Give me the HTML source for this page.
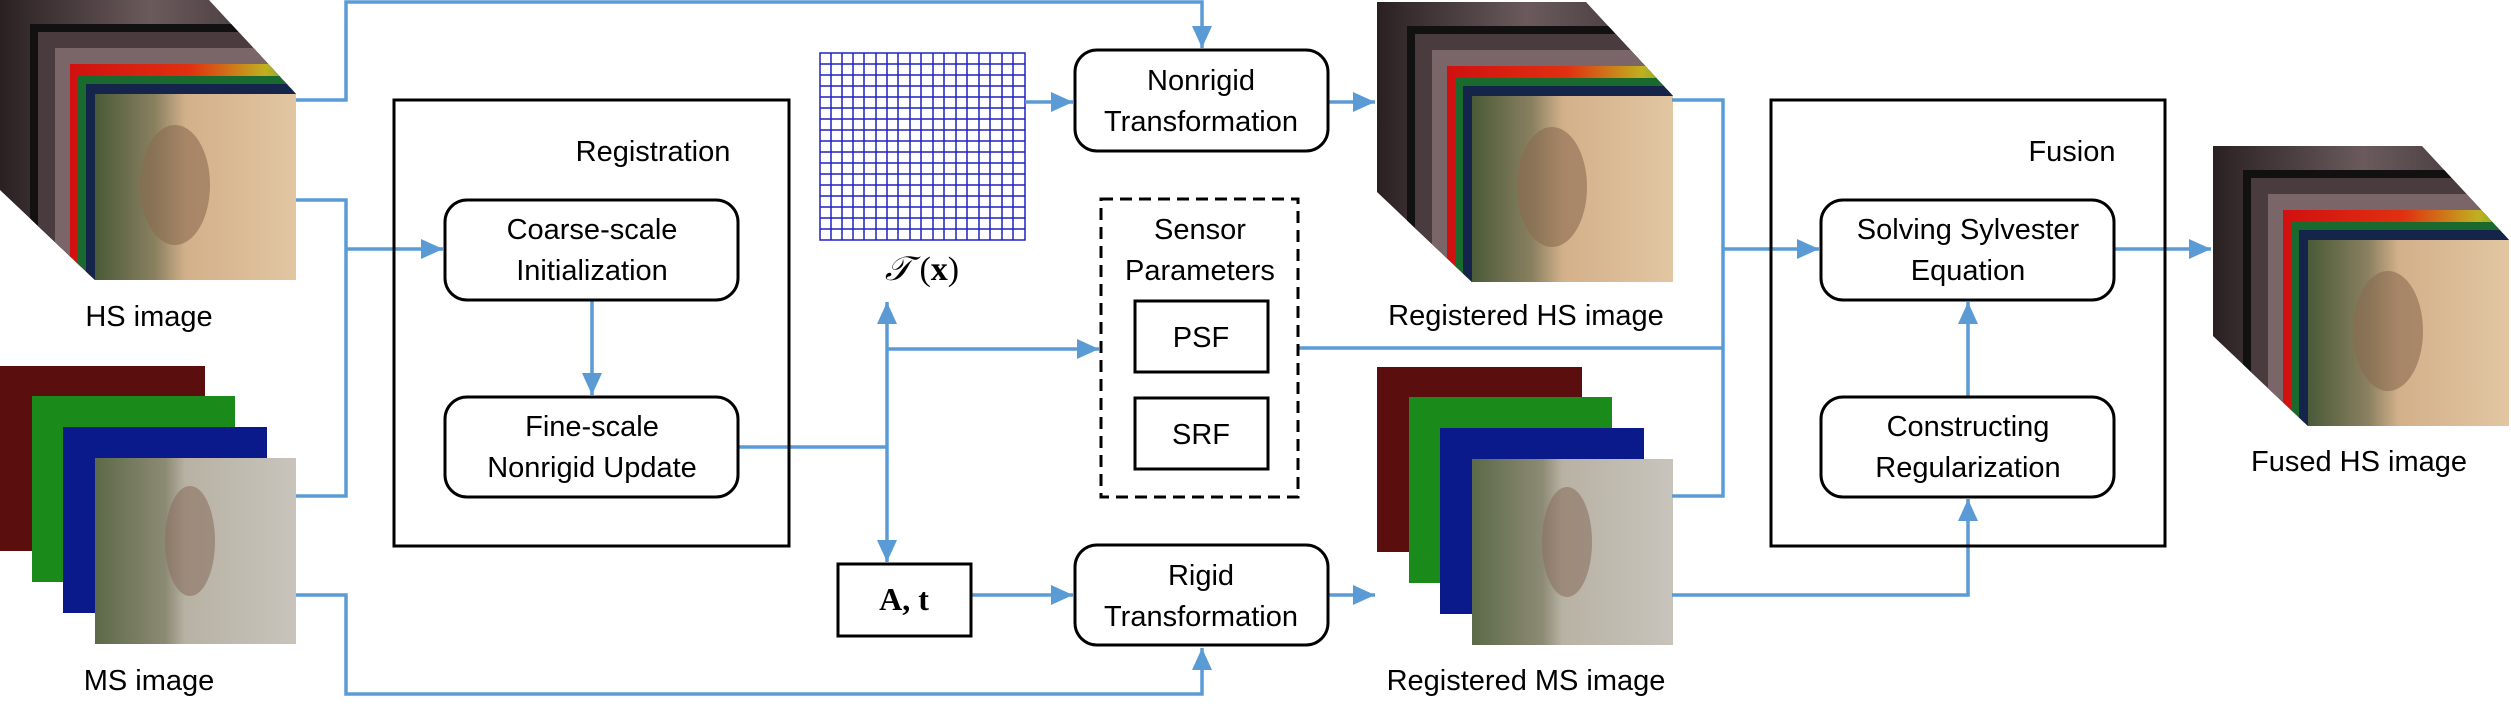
<!DOCTYPE html>
<html><head><meta charset="utf-8"><style>
html,body{margin:0;padding:0;background:#fff;}
svg{display:block;}
text{font-family:"Liberation Sans",sans-serif;font-size:29px;fill:#000;}
</style></head><body>
<svg width="2511" height="714" viewBox="0 0 2511 714" xmlns="http://www.w3.org/2000/svg">
<defs>
<marker id="ah" markerUnits="userSpaceOnUse" markerWidth="24" markerHeight="22" refX="22" refY="10" orient="auto">
<path d="M0,0 L22,10 L0,20 z" fill="#5b9bd5"/></marker>
<linearGradient id="rain" x1="0" y1="0" x2="1" y2="0">
<stop offset="0" stop-color="#d01010"/><stop offset="0.4" stop-color="#e03010"/><stop offset="0.65" stop-color="#c0b020"/><stop offset="0.85" stop-color="#20a040"/><stop offset="1" stop-color="#1040a0"/></linearGradient>
<linearGradient id="face" x1="0" y1="0" x2="1" y2="0">
<stop offset="0" stop-color="#4a5a38"/><stop offset="0.3" stop-color="#8a8060"/><stop offset="0.45" stop-color="#d2b08a"/><stop offset="1" stop-color="#e2c6a2"/></linearGradient>
<linearGradient id="msface" x1="0" y1="0" x2="1" y2="0">
<stop offset="0" stop-color="#5c6a48"/><stop offset="0.35" stop-color="#8c8a74"/><stop offset="0.45" stop-color="#b8b2a4"/><stop offset="1" stop-color="#c8c4bc"/></linearGradient>
<linearGradient id="dark" x1="0" y1="0" x2="1" y2="0">
<stop offset="0" stop-color="#2a2022"/><stop offset="0.5" stop-color="#6a5a5c"/><stop offset="1" stop-color="#3a3032"/></linearGradient>
<clipPath id="cc"><polygon points="0,0 209,0 296,94 296,280 95,280 0,190"/></clipPath>
<g id="cube">
<g clip-path="url(#cc)">
<rect x="0" y="0" width="300" height="290" fill="url(#dark)"/>
<rect x="30" y="24" width="300" height="290" fill="#111"/>
<rect x="38" y="32" width="300" height="290" fill="#4a3c3e"/>
<rect x="55" y="48" width="300" height="290" fill="#7a6668"/>
<rect x="70" y="64" width="300" height="290" fill="url(#rain)"/>
<rect x="78" y="76" width="300" height="290" fill="#1a6a30"/>
<rect x="86" y="84" width="300" height="290" fill="#14244a"/>
</g>
<rect x="95" y="94" width="201" height="186" fill="url(#face)"/>
<ellipse cx="175" cy="185" rx="35" ry="60" fill="#8a6a50" opacity="0.6"/>
</g>
<g id="ms">
<rect x="0" y="0" width="205" height="185" fill="#5a0e0e"/>
<rect x="32" y="30" width="203" height="186" fill="#1a8a1a"/>
<rect x="63" y="61" width="204" height="186" fill="#0a1a8a"/>
<rect x="95" y="92" width="201" height="186" fill="url(#msface)"/>
<ellipse cx="190" cy="175" rx="25" ry="55" fill="#8a7060" opacity="0.6"/>
</g>
</defs>

<use href="#cube" x="0" y="0"/>
<use href="#ms" x="0" y="366"/>
<use href="#cube" x="1377" y="2"/>
<use href="#ms" x="1377" y="367"/>
<use href="#cube" x="2213" y="146"/>

<g stroke="#2020c0" stroke-width="1.5" fill="none">
<rect x="820" y="53" width="205" height="187"/>
<path d="M831,53V240M842,53V240M853,53V240M864,53V240M876,53V240M887,53V240M898,53V240M910,53V240M921,53V240M933,53V240M944,53V240M956,53V240M967,53V240M979,53V240M990,53V240M1002,53V240M1013,53V240"/>
<path d="M820,64H1025M820,75H1025M820,86H1025M820,97H1025M820,108H1025M820,119H1025M820,130H1025M820,141H1025M820,152H1025M820,163H1025M820,174H1025M820,185H1025M820,196H1025M820,207H1025M820,218H1025M820,229H1025"/>
</g>

<g stroke="#5b9bd5" stroke-width="3.5" fill="none">
<path d="M296,100H346V2H1202V48" marker-end="url(#ah)"/>
<path d="M296,200H346V496H296"/>
<path d="M346,249H443" marker-end="url(#ah)"/>
<path d="M296,595H346V694H1202V648" marker-end="url(#ah)"/>
<path d="M592,300V395" marker-end="url(#ah)"/>
<path d="M738,447H887"/>
<path d="M887,447V302" marker-end="url(#ah)"/>
<path d="M887,447V562" marker-end="url(#ah)"/>
<path d="M887,349H1099" marker-end="url(#ah)"/>
<path d="M1025,102H1073" marker-end="url(#ah)"/>
<path d="M971,595H1073" marker-end="url(#ah)"/>
<path d="M1328,102H1375" marker-end="url(#ah)"/>
<path d="M1328,595H1375" marker-end="url(#ah)"/>
<path d="M1672,100H1723V496H1672"/>
<path d="M1298,348H1723"/>
<path d="M1723,249H1819" marker-end="url(#ah)"/>
<path d="M1672,595H1968V499" marker-end="url(#ah)"/>
<path d="M1968,397V302" marker-end="url(#ah)"/>
<path d="M2114,249H2211" marker-end="url(#ah)"/>
</g>

<g stroke="#000" stroke-width="3" fill="#fff">
<rect x="394" y="100" width="395" height="446" fill="none"/>
<rect x="445" y="200" width="293" height="100" rx="22"/>
<rect x="445" y="397" width="293" height="100" rx="22"/>
<rect x="1075" y="50" width="253" height="101" rx="22"/>
<rect x="1075" y="545" width="253" height="100" rx="22"/>
<rect x="1101" y="199" width="197" height="298" fill="none" stroke-dasharray="12,7"/>
<rect x="1135" y="301" width="133" height="71"/>
<rect x="1135" y="398" width="133" height="71"/>
<rect x="838" y="564" width="133" height="72"/>
<rect x="1771" y="100" width="394" height="446" fill="none"/>
<rect x="1821" y="200" width="293" height="100" rx="22"/>
<rect x="1821" y="397" width="293" height="100" rx="22"/>
</g>

<g text-anchor="middle">
<text x="149" y="326">HS image</text>
<text x="149" y="690">MS image</text>
<text x="653" y="161">Registration</text>
<text x="592" y="239">Coarse-scale</text>
<text x="592" y="280">Initialization</text>
<text x="592" y="436">Fine-scale</text>
<text x="592" y="477">Nonrigid Update</text>
<text x="922" y="280" style="font-family:'Liberation Serif',serif;font-size:34px;"><tspan font-style="italic">𝒯</tspan> (<tspan font-weight="bold">x</tspan>)</text>
<text x="1201" y="90">Nonrigid</text>
<text x="1201" y="131">Transformation</text>
<text x="1200" y="239">Sensor</text>
<text x="1200" y="280">Parameters</text>
<text x="1201" y="347">PSF</text>
<text x="1201" y="444">SRF</text>
<text x="904" y="610" style="font-family:'Liberation Serif',serif;font-size:32px;font-weight:bold;">A, t</text>
<text x="1201" y="585">Rigid</text>
<text x="1201" y="626">Transformation</text>
<text x="1526" y="325">Registered HS image</text>
<text x="1526" y="690">Registered MS image</text>
<text x="2072" y="161">Fusion</text>
<text x="1968" y="239">Solving Sylvester</text>
<text x="1968" y="280">Equation</text>
<text x="1968" y="436">Constructing</text>
<text x="1968" y="477">Regularization</text>
<text x="2359" y="471">Fused HS image</text>
</g>
</svg>
</body></html>
